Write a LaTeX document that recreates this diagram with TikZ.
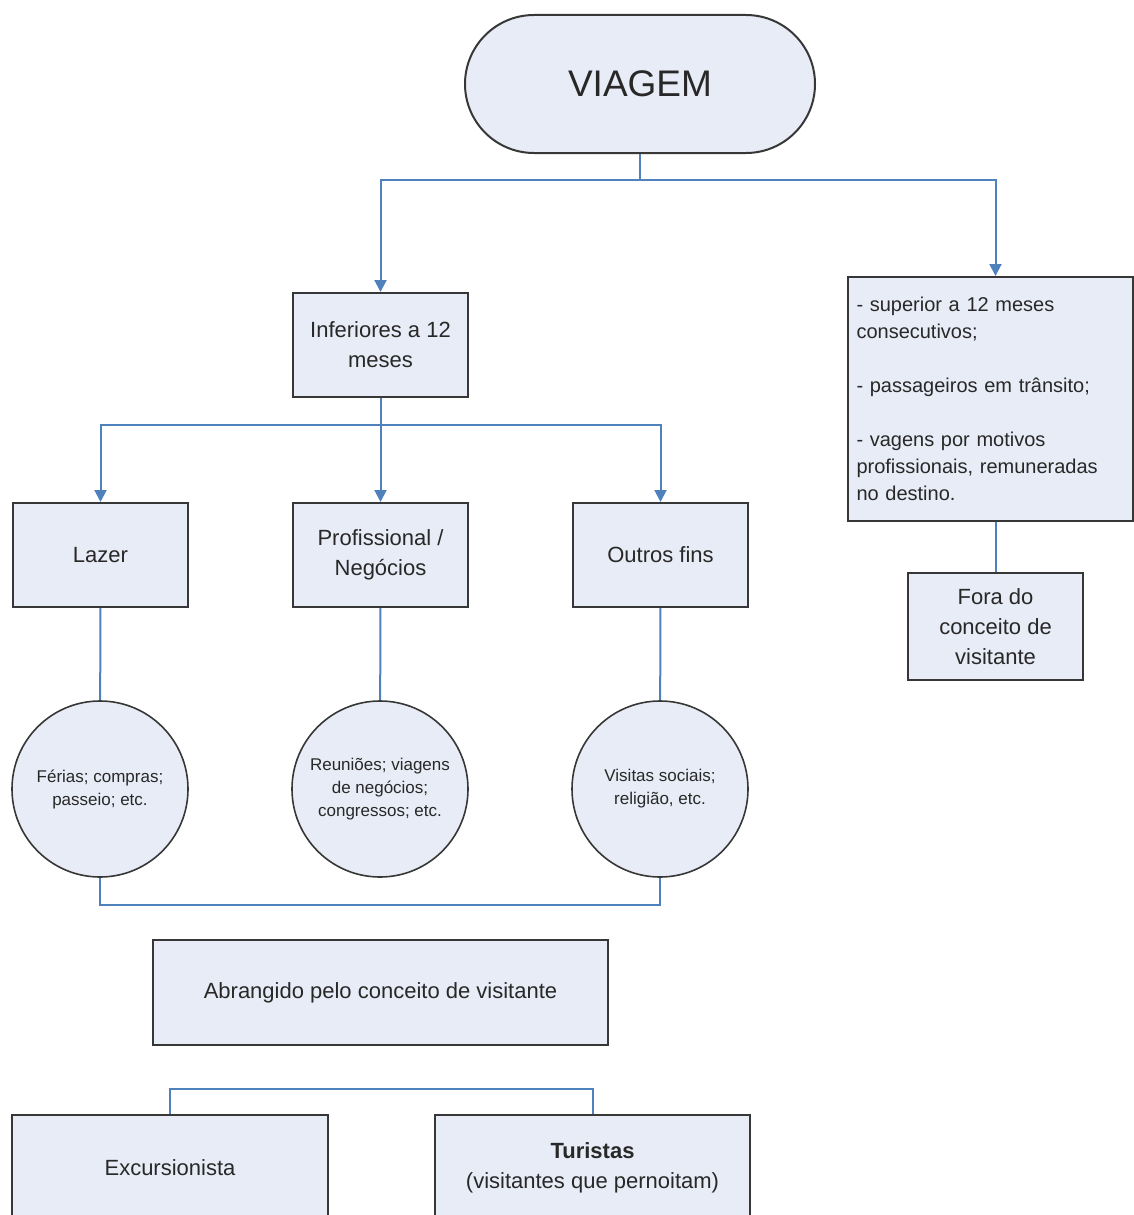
\documentclass[tikz,border=0pt]{standalone}
\usepackage{fontspec}
\setmainfont{Liberation Sans}
\usetikzlibrary{arrows.meta}
\definecolor{linkblue}{RGB}{79,129,189}
\definecolor{boxfill}{RGB}{232,236,246}
\definecolor{boxedge}{RGB}{55,55,55}
\definecolor{inkgrey}{RGB}{40,40,40}
\tikzset{my_chart/.style={x=1pt,y=-1pt,font=\fontsize{22}{30}\selectfont}}
\tikzset{my_box/.style={rectangle, draw=boxedge, fill=boxfill, line width=2pt, inner sep=0pt, align=center, text=inkgrey}}
\tikzset{my_stadium/.style={my_box, rounded corners=69pt, font=\fontsize{37}{44}\selectfont}}
\tikzset{my_round/.style={circle, draw=boxedge, fill=boxfill, line width=1.6pt, inner sep=0pt, text=inkgrey,
    minimum size=176pt, align=center, font=\fontsize{17}{23}\selectfont}}
\tikzset{my_link/.style={draw=linkblue, line width=2pt}}
\tikzset{my_arrow/.style={my_link, -{Triangle[length=12pt,width=12pt]}}}

\begin{document}
\begin{tikzpicture}[my_chart]
    \useasboundingbox (0,0) rectangle (1134,1215);
    \clip (0,0) rectangle (1134,1215);
    % top
    \node[my_stadium, minimum width=350pt, minimum height=138pt] (viagem) at (640,84) {VIAGEM};
    \node[my_box, minimum width=175pt, minimum height=104pt] (inferiores) at (380.5,345) {Inferiores a 12\\meses};
    \node[my_box, minimum width=285pt, minimum height=244pt, text width=268pt, align=left,
          font=\fontsize{20}{27}\selectfont] (superior) at (990.5,399)
        {- superior a 12 meses\\consecutivos;\\[27pt]- passageiros em trânsito;\\[27pt]- vagens por motivos\\profissionais, remuneradas\\no destino.};
    \node[my_box, minimum width=175pt, minimum height=107pt] (fora) at (995.5,626.5) {Fora do\\conceito de\\visitante};
    % motivos
    \node[my_box, minimum width=175pt, minimum height=104pt] (lazer) at (100.5,555) {Lazer};
    \node[my_box, minimum width=175pt, minimum height=104pt] (profissional) at (380.5,555) {Profissional /\\Negócios};
    \node[my_box, minimum width=175pt, minimum height=104pt] (outros) at (660.5,555) {Outros fins};
    \node[my_round] (ferias) at (100,789) {Férias; compras;\\passeio; etc.};
    \node[my_round] (reunioes) at (380,789) {Reuniões; viagens\\de negócios;\\congressos; etc.};
    \node[my_round] (visitas) at (660,789) {Visitas sociais;\\religião, etc.};
    % visitantes
    \node[my_box, minimum width=455pt, minimum height=105pt] (abrangido) at (380.5,992.5) {Abrangido pelo conceito de visitante};
    \node[my_box, minimum width=316pt, minimum height=106pt] (excursionista) at (170,1168) {Excursionista};
    \node[my_box, minimum width=315pt, minimum height=106pt] (turistas) at (592.5,1168) {\textbf{Turistas}\\(visitantes que pernoitam)};

    \coordinate (bar1) at (640,180);
    \coordinate (bar2) at (380.5,425);
    \draw[my_link] (viagem.south) -- (bar1);
    \draw[my_arrow] (bar1) -| (inferiores.north);
    \draw[my_arrow] (bar1) -| (fora.north |- superior.north);
    \draw[my_link] (fora.north |- superior.south) -- (fora.north);
    \draw[my_link] (inferiores.south) -- (bar2);
    \draw[my_arrow] (bar2) -| (lazer.north);
    \draw[my_arrow] (bar2) -- (profissional.north);
    \draw[my_arrow] (bar2) -| (outros.north);
    \draw[my_link] (lazer) -- (ferias);
    \draw[my_link] (profissional) -- (reunioes);
    \draw[my_link] (outros) -- (visitas);
    \draw[my_link] (ferias.south) -- ++(0,27) -| (visitas.south);
    \draw[my_link] (excursionista.north) -- ++(0,-25) -| (turistas.north);
\end{tikzpicture}
\end{document}
